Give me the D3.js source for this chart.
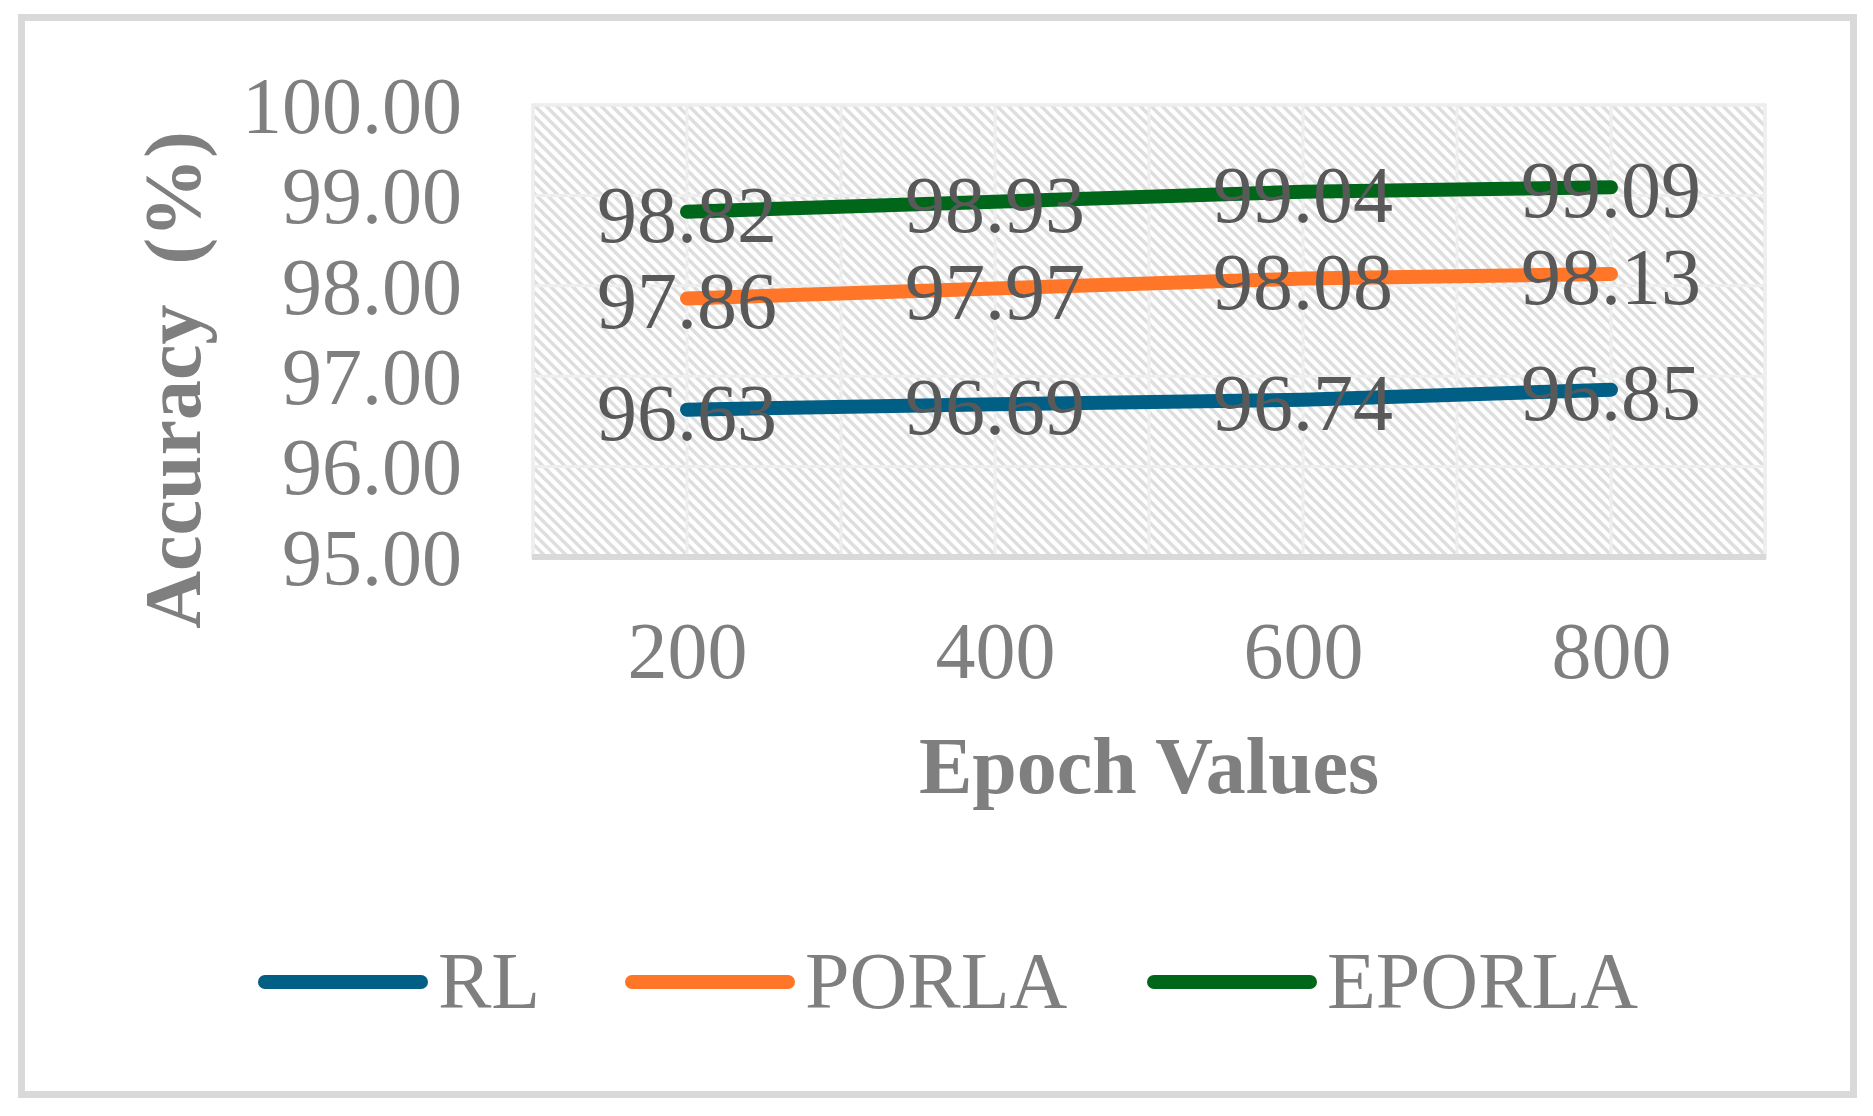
<!DOCTYPE html>
<html lang="en">
<head>
  <meta charset="UTF-8">
  <title>Accuracy vs Epoch Values</title>
  <script src="https://d3js.org/d3.v7.min.js"></script>
  <style>
    body {
      margin: 0;
      background: #fff;
    }
    svg text {
      font-family: "Liberation Serif", "Times New Roman", serif;
    }
  </style>
</head>
<body>
<script>
const width = 1873;
const height = 1116;

const epochs = ["200", "400", "600", "800"];
const rl = [96.63, 96.69, 96.74, 96.85];
const porla = [97.86, 97.97, 98.08, 98.13];
const eporla = [98.82, 98.93, 99.04, 99.09];
const yTicks = [95, 96, 97, 98, 99, 100];
const seriesNames = ["RL", "PORLA", "EPORLA"];
const seriesColors = ["#015e84", "#ff7629", "#00661a"];

const series = [rl, porla, eporla].map((values, i) => ({
  name: seriesNames[i],
  color: seriesColors[i],
  values: values
}));

const plot = {left: 533, right: 1765, top: 105, bottom: 557};

const svg = d3.select("body").append("svg")
  .attr("width", width)
  .attr("height", height)
  .attr("viewBox", [0, 0, width, height]);

// hatch pattern (wide downward diagonal)
const defs = svg.append("defs");
const pat = defs.append("pattern")
  .attr("id", "hatch")
  .attr("patternUnits", "userSpaceOnUse")
  .attr("width", 11)
  .attr("height", 11);
pat.append("rect").attr("width", 11).attr("height", 11).attr("fill", "#fff");
pat.append("path")
  .attr("d", "M-5.5,-5.5 L16.5,16.5 M-5.5,5.5 L5.5,16.5 M5.5,-5.5 L16.5,5.5")
  .attr("stroke", "#dedede")
  .attr("stroke-width", 3.4);

// outer chart border
svg.append("rect")
  .attr("x", 21.5).attr("y", 17.5)
  .attr("width", 1832).attr("height", 1077)
  .attr("fill", "#fff")
  .attr("stroke", "#d9d9d9")
  .attr("stroke-width", 7);

const x = d3.scalePoint()
  .domain(epochs)
  .range([plot.left, plot.right])
  .padding(0.5);

const y = d3.scaleLinear()
  .domain([95, 100])
  .range([plot.bottom, plot.top]);

// plot area
svg.append("rect")
  .attr("x", plot.left).attr("y", plot.top)
  .attr("width", plot.right - plot.left)
  .attr("height", plot.bottom - plot.top)
  .attr("fill", "url(#hatch)")
  .attr("stroke", "#e8e8e8")
  .attr("stroke-width", 3);

// gridlines
const half = x.step() / 2;
const vLines = d3.range(0, epochs.length * 2 + 1).map(i => plot.left + i * half);
svg.append("g")
  .selectAll("line")
  .data(vLines)
  .join("line")
  .attr("x1", d => d).attr("x2", d => d)
  .attr("y1", plot.top).attr("y2", plot.bottom)
  .attr("stroke", "#eeeeee")
  .attr("stroke-width", 3);

svg.append("g")
  .selectAll("line")
  .data(yTicks)
  .join("line")
  .attr("x1", plot.left).attr("x2", plot.right)
  .attr("y1", d => y(d)).attr("y2", d => y(d))
  .attr("stroke", "#eeeeee")
  .attr("stroke-width", 3);

// bottom axis line
svg.append("line")
  .attr("x1", plot.left - 1).attr("x2", plot.right + 1)
  .attr("y1", plot.bottom).attr("y2", plot.bottom)
  .attr("stroke", "#d9d9d9")
  .attr("stroke-width", 6);

// y axis
const yAxis = svg.append("g")
  .attr("transform", `translate(${plot.left},0)`)
  .call(d3.axisLeft(y).tickValues(yTicks).tickFormat(d3.format(".2f")).tickSize(0).tickPadding(71));
yAxis.select(".domain").remove();
yAxis.selectAll("text")
  .attr("dy", "0.34em")
  .attr("fill", "#7f7f7f")
  .style("font-size", "80px")
  .style("font-family", "'Liberation Serif', serif");

// x axis
const xAxis = svg.append("g")
  .attr("transform", `translate(0,${plot.bottom})`)
  .call(d3.axisBottom(x).tickSize(0).tickPadding(64));
xAxis.select(".domain").remove();
xAxis.selectAll("text")
  .attr("fill", "#7f7f7f")
  .style("font-size", "80px")
  .style("font-family", "'Liberation Serif', serif");

// axis titles
svg.append("text")
  .attr("x", (plot.left + plot.right) / 2)
  .attr("y", 793)
  .attr("text-anchor", "middle")
  .attr("fill", "#7f7f7f")
  .attr("font-weight", "bold")
  .style("font-size", "80px")
  .text("Epoch Values");

svg.append("text")
  .attr("transform", "translate(200,380) rotate(-90)")
  .attr("text-anchor", "middle")
  .attr("fill", "#7f7f7f")
  .attr("font-weight", "bold")
  .style("font-size", "80px")
  .style("white-space", "pre")
  .attr("xml:space", "preserve")
  .text("Accuracy  (%)");

// lines
const line = d3.line()
  .x((d, i) => x(epochs[i]))
  .y(d => y(d));

svg.append("g")
  .selectAll("path")
  .data(series)
  .join("path")
  .attr("d", d => line(d.values))
  .attr("fill", "none")
  .attr("stroke", d => d.color)
  .attr("stroke-width", 14)
  .attr("stroke-linecap", "round")
  .attr("stroke-linejoin", "round");

// data labels
series.forEach(s => {
  svg.append("g")
    .selectAll("text")
    .data(s.values)
    .join("text")
    .attr("x", (d, i) => x(epochs[i]))
    .attr("y", d => y(d) + 30)
    .attr("text-anchor", "middle")
    .attr("fill", "#595959")
    .style("font-size", "80px")
    .text(d => d3.format(".2f")(d));
});

// legend
const legendStarts = [258, 625, 1147];
const legend = svg.append("g");
series.forEach((s, i) => {
  const x0 = legendStarts[i];
  legend.append("line")
    .attr("x1", x0 + 7).attr("x2", x0 + 163)
    .attr("y1", 982).attr("y2", 982)
    .attr("stroke", s.color)
    .attr("stroke-width", 14)
    .attr("stroke-linecap", "round");
  legend.append("text")
    .attr("x", x0 + 180)
    .attr("y", 1008)
    .attr("fill", "#7f7f7f")
    .style("font-size", "80px")
    .text(s.name);
});
</script>
</body>
</html>
